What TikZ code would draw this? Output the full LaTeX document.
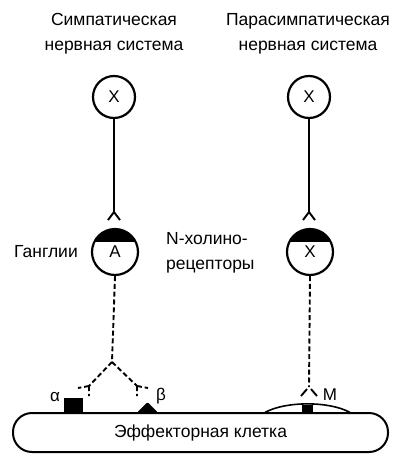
\documentclass[tikz,border=0pt]{standalone}
\usepackage{fontspec}
\setmainfont{Liberation Sans}
\usetikzlibrary{calc}
\begin{document}
\begin{tikzpicture}[x=1pt,y=-1pt,
  neuron/.style={circle,draw,line width=2.2pt,inner sep=0pt,
    font=\fontsize{17}{17}\selectfont},
  axon/.style={line width=1.9pt},
  post/.style={line width=1.9pt,dash pattern=on 5pt off 2.8pt},
  lbl/.style={font=\fontsize{17.5}{25}\selectfont,align=center,inner sep=0pt},
  rec/.style={font=\fontsize{17}{17}\selectfont,inner sep=0pt},
]
\useasboundingbox (0,0) rectangle (394,456);

% system headings
\node[lbl] (symt) at (114,34) {Симпатическая\\нервная система};
\node[lbl] (part) at (308,34) {Парасимпатическая\\нервная система};

% preganglionic neurons
\node[neuron,minimum size=42pt] (sx) at (114,97) {X};
\node[neuron,minimum size=42pt] (px) at (309,97) {X};

% ganglionic neurons with dark N-cholinoreceptor caps
\foreach \n/\xx in {ga/115,gx/310}{
  \begin{scope}
    \clip (\xx,252) circle (23pt);
    \fill (\xx-30,220) rectangle (\xx+30,242);
  \end{scope}
}
\node[neuron,minimum size=46pt] (ga) at (115,252) {A};
\node[neuron,minimum size=46pt] (gx) at (310,252) {X};

\node[lbl,anchor=east] (gang) at (78,252) {Ганглии};
\node[lbl,anchor=west,align=left] (ncr) at (166,253) {N-холино-\\рецепторы};

% preganglionic axons with forked endings
\coordinate (sa) at (114,212);
\coordinate (pa) at (309,212);
\draw[axon] (sx.south) -- (sa);
\draw[axon] (sa) -- ++(-6,8) (sa) -- ++(6,8);
\draw[axon] (px.south) -- (pa);
\draw[axon] (pa) -- ++(-6,8) (pa) -- ++(6,8);

% effector cell
\node[draw,line width=2pt,rounded corners=19pt,minimum width=375pt,
  minimum height=39pt,font=\fontsize{17.5}{17.5}\selectfont] (eff) at (200.5,432.5)
  {Эффекторная клетка};

% sympathetic postganglionic fibre
\coordinate (br) at (112,362);
\coordinate (lt) at (89,386);
\coordinate (rt) at (137,386);
\draw[post] (ga.south) -- (br);
\draw[post] (br) -- (lt);
\draw[post] (br) -- (rt);
\draw[post] (lt) -- ++(-11,2) (lt) -- ++(0,10);
\draw[post] (rt) -- ++(0,10) (rt) -- ++(11,2);

% adrenoreceptors
\fill (64,398) rectangle (83,412);
\fill[rounded corners=2pt] (137,412.5) -- (147.5,402) -- (158,412.5) -- cycle;
\node[rec] (alpha) at (55,397) {α};
\node[rec] (beta) at (161,396) {β};

% parasympathetic postganglionic fibre
\coordinate (mt) at (309,387);
\draw[post] (gx.south) -- (mt);
\draw[axon] (mt) ++(-2,2) -- ++(-6,7) (mt) ++(2,2) -- ++(6,7);

% M-cholinoreceptor
\draw[line width=1.6pt] (265,412.5) .. controls (285,401) and (330,401) .. (350,412.5);
\fill (302,404.5) rectangle (313,412.5);
\node[rec] (mlab) at (330,395) {M};
\end{tikzpicture}
\end{document}
